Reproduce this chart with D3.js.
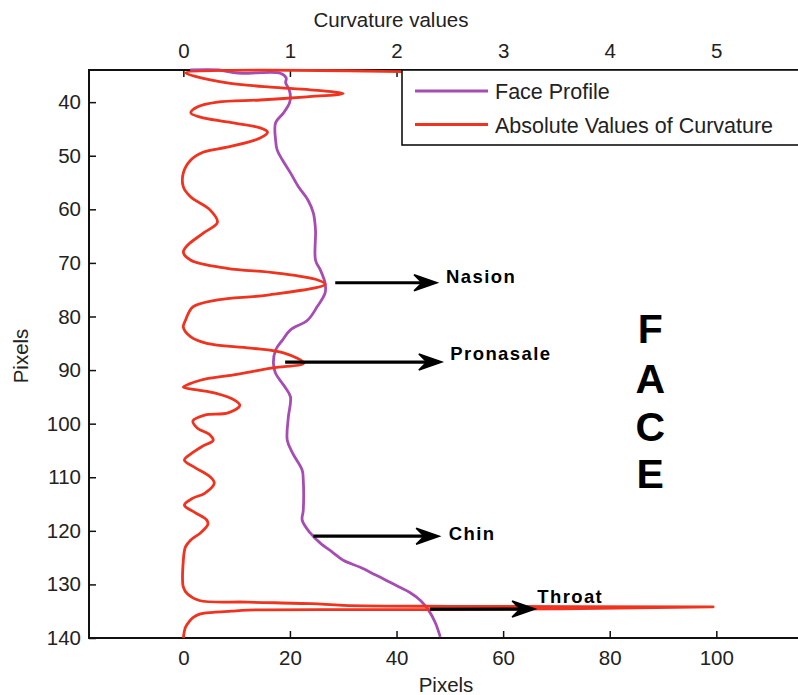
<!DOCTYPE html>
<html>
<head>
<meta charset="utf-8">
<script src="https://cdn.jsdelivr.net/npm/d3@7"></script>
<style>
  html, body { margin: 0; padding: 0; background: #fff; }
  svg { display: block; font-family: "Liberation Sans", Arial, sans-serif; }
</style>
</head>
<body>
<svg id="chart" width="798" height="695"></svg>
<script>
// Face profile: column (pixels) of the profile edge for each image row
const profileRows = [34.0, 34.0, 34.6, 34.6, 35.5, 36.4, 37.5, 39.0, 40.2, 42.0, 43.9, 47.0, 48.9, 50.8,
  53.2, 55.8, 58.3, 60.7, 63.9, 69.5, 71.3, 73.8, 75.6, 78.2, 80.7, 82.5, 84.4, 86.3, 88.7, 90.6,
  93.2, 95.0, 98.8, 103.1, 105.5, 108.7, 110.5, 116.2, 118.0, 120.4, 122.3, 124.0, 125.5, 126.8,
  128.2, 129.2, 130.5, 131.5, 133.0, 134.8, 137.2, 139.8];
const profileCols = [1.3, 6.6, 10.3, 18.2, 19.3, 19.2, 19.8, 20.1, 19.9, 18.8, 17.3, 17.3, 17.6, 18.6,
  20.1, 21.6, 23.4, 24.4, 24.8, 24.8, 25.7, 26.6, 26.6, 25.1, 23.3, 20.1, 18.6, 17.3, 16.9, 17.3,
  19.1, 20.1, 19.7, 19.5, 20.5, 22.3, 22.5, 22.5, 22.3, 23.8, 25.7, 28.0, 30.0, 33.2,
  36.0, 38.0, 40.5, 42.5, 44.5, 46.0, 47.3, 48.2];

// Absolute curvature along the profile
const curvRows = [34.3, 34.5, 35.3, 36.4, 37.2, 37.7, 38.4, 39.0, 39.6, 40.0, 40.9, 42.0, 42.8, 43.7,
  44.8, 45.6, 46.7, 48.4, 49.3, 50.8, 53.2, 55.8, 57.7, 60.1, 62.4, 64.4, 66.7, 68.0, 69.5, 71.0,
  71.9, 73.2, 74.0, 76.0, 76.9, 78.2, 80.7, 82.0, 83.8, 85.0, 85.9, 86.8, 88.7, 89.6, 90.9, 91.9,
  93.2, 93.7, 94.3, 95.6, 96.6, 98.0, 98.4, 99.5, 100.8, 102.1, 103.1, 104.2, 105.5, 106.8, 108.2,
  109.9, 111.1, 113.0, 113.9, 115.2, 116.6, 118.0, 118.8, 120.4, 121.7, 123.0, 125.5, 130.5, 131.8,
  133.0, 133.3, 133.6, 133.9, 134.1, 134.2, 134.7, 134.8, 135.0, 135.2, 135.5, 136.2, 136.8, 138.0, 140.0];
const curvValues = [2.05, 0.02, 0.13, 0.41, 0.82, 1.19, 1.50, 1.16, 0.72, 0.32, 0.13, 0.07, 0.16, 0.41,
  0.72, 0.79, 0.72, 0.41, 0.19, 0.07, 0.00, 0.00, 0.07, 0.25, 0.32, 0.19, 0.04, 0.00, 0.07, 0.41,
  0.88, 1.26, 1.33, 0.79, 0.32, 0.09, 0.02, 0.00, 0.07, 0.22, 0.63, 0.94, 1.13, 0.84, 0.47, 0.16,
  0.00, 0.13, 0.30, 0.48, 0.53, 0.42, 0.20, 0.09, 0.13, 0.25, 0.28, 0.18, 0.08, 0.01, 0.11,
  0.25, 0.29, 0.20, 0.09, 0.01, 0.11, 0.22, 0.23, 0.16, 0.07, 0.02, 0.00, 0.00, 0.04,
  0.15, 0.60, 1.20, 1.50, 2.50, 4.97, 2.50, 0.60, 0.45, 0.28, 0.16, 0.09, 0.06, 0.02, 0.00];

// Tick labels
const pixelTicks = [0, 20, 40, 60, 80, 100];
const curvTicks = [0, 1, 2, 3, 4, 5];
const rowTicks = [40, 50, 60, 70, 80, 90, 100, 110, 120, 130, 140];

// Landmark annotations (rows / columns in pixel units)
const markNames = ["Nasion", "Pronasale", "Chin", "Throat"];
const markRows = [73.7, 88.5, 121.0, 134.6];
const arrowFrom = [28.5, 19.1, 24.4, 46.3];
const arrowTo = [47.6, 48.5, 48.0, 66.0];
const labelCols = [49.3, 50.1, 49.8, 66.4];
const labelRows = [72.6, 86.9, 120.4, 132.3];

const faceLetters = ["F", "A", "C", "E"];
const faceCol = 87.6;
const faceRows = [85.0, 94.3, 103.3, 112.0];

const legendNames = ["Face Profile", "Absolute Values of Curvature"];

const purple = "#a64db4";
const red = "#f0321e";

const svg = d3.select("#chart");
const L = 89, R = 800, T = 70, B = 638;

const xPix = d3.scaleLinear().domain([-17.7, 115.7]).range([L, R]);
const xCurv = d3.scaleLinear().domain([-17.7 / 20, 115.7 / 20]).range([L, R]);
const y = d3.scaleLinear().domain([34, 140]).range([T, B]);

// Axes frame
svg.append("rect")
  .attr("x", L).attr("y", T).attr("width", R - L).attr("height", B - T)
  .attr("fill", "none").attr("stroke", "#111").attr("stroke-width", 2);

const fs = 20.5;
const bottomAxis = svg.append("g").attr("transform", `translate(0,${B})`)
  .call(d3.axisBottom(xPix).tickValues(pixelTicks).tickFormat(d3.format("d"))
    .tickSizeInner(-7).tickSizeOuter(0).tickPadding(12));
const topAxis = svg.append("g").attr("transform", `translate(0,${T})`)
  .call(d3.axisTop(xCurv).tickValues(curvTicks).tickFormat(d3.format("d"))
    .tickSizeInner(-7).tickSizeOuter(0).tickPadding(12));
const leftAxis = svg.append("g").attr("transform", `translate(${L},0)`)
  .call(d3.axisLeft(y).tickValues(rowTicks).tickFormat(d3.format("d"))
    .tickSizeInner(-7).tickSizeOuter(0).tickPadding(8));
[bottomAxis, topAxis, leftAxis].forEach(g => {
  g.select(".domain").remove();
  g.selectAll(".tick line").attr("stroke", "#111").attr("stroke-width", 1.5);
  g.selectAll(".tick text").attr("fill", "#222").style("font-size", fs + "px")
    .style("font-family", "'Liberation Sans', Arial, sans-serif");
});

// Axis titles
svg.append("text").attr("x", 391).attr("y", 27).attr("text-anchor", "middle")
  .attr("fill", "#222").style("font-size", "20.5px").text("Curvature values");
svg.append("text").attr("x", 446).attr("y", 692).attr("text-anchor", "middle")
  .attr("fill", "#222").style("font-size", "20.5px").text("Pixels");
svg.append("text").attr("transform", "translate(28,356) rotate(-90)").attr("text-anchor", "middle")
  .attr("fill", "#222").style("font-size", "20.5px").text("Pixels");

// Data lines
svg.append("defs").append("clipPath").attr("id", "plotClip")
  .append("rect").attr("x", L - 2).attr("y", T - 2).attr("width", R - L + 4).attr("height", B - T + 4);
const plot = svg.append("g").attr("clip-path", "url(#plotClip)");

const smooth = d3.curveCatmullRom.alpha(0.5);

const profileLine = d3.line().curve(smooth).x(i => xPix(profileCols[i])).y(i => y(profileRows[i]));
plot.append("path").attr("d", profileLine(d3.range(profileRows.length)))
  .attr("fill", "none").attr("stroke", purple).attr("stroke-width", 2.8).attr("stroke-linejoin", "round");

const curvLine = d3.line().curve(smooth).x(i => xCurv(curvValues[i])).y(i => y(curvRows[i]));
plot.append("path").attr("d", curvLine(d3.range(curvRows.length)))
  .attr("fill", "none").attr("stroke", red).attr("stroke-width", 2.8).attr("stroke-linejoin", "round");

// Landmark arrows and labels
const arrows = svg.append("g");
markNames.forEach((name, i) => {
  const x0 = xPix(arrowFrom[i]), x1 = xPix(arrowTo[i]), yy = y(markRows[i]);
  arrows.append("line").attr("x1", x0).attr("x2", x1 - 8).attr("y1", yy).attr("y2", yy)
    .attr("stroke", "#000").attr("stroke-width", 3.2);
  arrows.append("path")
    .attr("d", `M${x1},${yy} L${x1 - 23},${yy - 8} L${x1 - 15},${yy} L${x1 - 23},${yy + 8} Z`)
    .attr("fill", "#000").attr("stroke", "#000").attr("stroke-width", 1.5).attr("stroke-linejoin", "miter");
  arrows.append("text").attr("x", xPix(labelCols[i])).attr("y", y(labelRows[i])).attr("dy", "0.36em")
    .style("font-size", "18.5px").style("font-weight", "bold").style("letter-spacing", "1.4px")
    .attr("fill", "#000").text(name);
});

// Vertical FACE caption
faceLetters.forEach((ch, i) => {
  svg.append("text").attr("x", xPix(faceCol)).attr("y", y(faceRows[i])).attr("text-anchor", "middle")
    .style("font-size", "41px").style("font-weight", "bold").attr("fill", "#000").text(ch);
});

// Legend
const leg = svg.append("g");
leg.append("rect").attr("x", 402).attr("y", T).attr("width", 400).attr("height", 75)
  .attr("fill", "#fff").attr("stroke", "#111").attr("stroke-width", 1.6);
[purple, red].forEach((c, i) => {
  const ly = 91 + i * 33.5;
  leg.append("line").attr("x1", 415).attr("x2", 488).attr("y1", ly).attr("y2", ly)
    .attr("stroke", c).attr("stroke-width", 2.8);
  leg.append("text").attr("x", 495).attr("y", ly + 8).attr("fill", "#222")
    .style("font-size", "21.5px").text(legendNames[i]);
});
</script>
</body>
</html>
